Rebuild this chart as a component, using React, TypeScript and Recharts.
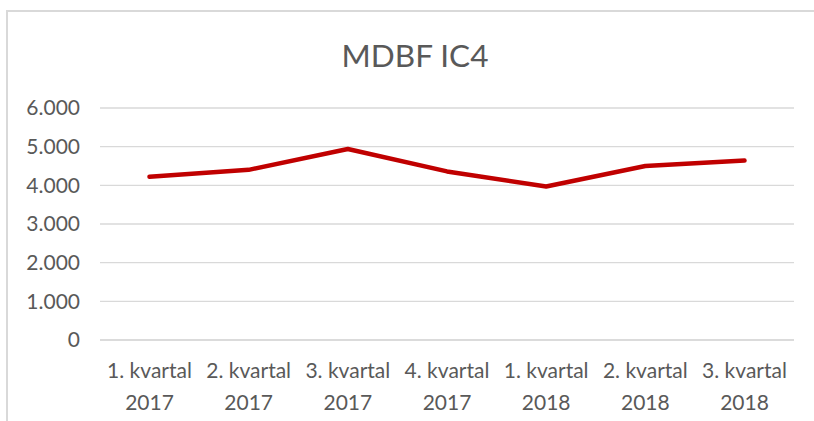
import React from "react";
import { LineChart, Line, XAxis, YAxis, CartesianGrid } from "recharts";

const categories = [
  "1. kvartal 2017",
  "2. kvartal 2017",
  "3. kvartal 2017",
  "4. kvartal 2017",
  "1. kvartal 2018",
  "2. kvartal 2018",
  "3. kvartal 2018",
];
const mdbfValues = [4220, 4400, 4940, 4360, 3970, 4500, 4640];
const yTicks = [0, 1000, 2000, 3000, 4000, 5000, 6000];
const title = "MDBF IC4";

const data = categories.map((c, i) => ({ name: c, value: mdbfValues[i] }));

const FONT = "Lato, 'Open Sans', sans-serif";
const TXT = "#595959";

const fmt = (v: number) =>
  v === 0 ? "0" : String(v).replace(/\B(?=(\d{3})+(?!\d))/g, ".");

const XTick = (props: any) => {
  const { x, y, payload } = props;
  const s: string = payload.value;
  const idx = s.lastIndexOf(" ");
  const l1 = s.slice(0, idx);
  const l2 = s.slice(idx + 1);
  return (
    <text x={x} y={y} textAnchor="middle" fill={TXT} fontFamily={FONT} fontSize={21}>
      <tspan x={x} dy={30}>{l1}</tspan>
      <tspan x={x} dy={32}>{l2}</tspan>
    </text>
  );
};

export default function App() {
  return (
    <div style={{ position: "fixed", left: 0, top: 0, width: 814, height: 421, overflow: "hidden", background: "#fff" }}>
      <div
        style={{
          position: "absolute",
          left: 6,
          top: 10,
          width: 2,
          height: 411,
          background: "#d9d9d9",
        }}
      />
      <div
        style={{
          position: "absolute",
          left: 6,
          top: 10,
          width: 808,
          height: 2,
          background: "#d9d9d9",
        }}
      />
      <div
        style={{
          position: "absolute",
          left: 0,
          width: 830,
          top: 36,
          textAlign: "center",
          fontFamily: FONT,
          fontSize: 31.5,
          color: TXT,
        }}
      >
        {title}
      </div>
      <div style={{ position: "absolute", left: 0, top: 0 }}>
        <LineChart
          width={814}
          height={421}
          data={data}
          margin={{ top: 108, right: 20, bottom: 1, left: 0 }}
        >
          <CartesianGrid horizontal vertical={false} stroke="#d9d9d9" strokeWidth={1.3} />
          <XAxis
            dataKey="name"
            height={80}
            axisLine={{ stroke: "#d9d9d9", strokeWidth: 1.3 }}
            tickLine={false}
            interval={0}
            padding={{ left: 49.5, right: 49.5 }}
            tick={<XTick />}
          />
          <YAxis
            width={100}
            domain={[0, 6000]}
            ticks={yTicks}
            tickFormatter={fmt}
            axisLine={false}
            tickLine={false}
            tickSize={6}
            tickMargin={14}
            tick={{ fill: TXT, fontFamily: FONT, fontSize: 21 }}
          />
          <Line
            type="linear"
            dataKey="value"
            stroke="#c00000"
            strokeWidth={4.5}
            strokeLinecap="round"
            strokeLinejoin="round"
            dot={false}
            isAnimationActive={false}
          />
        </LineChart>
      </div>
    </div>
  );
}
